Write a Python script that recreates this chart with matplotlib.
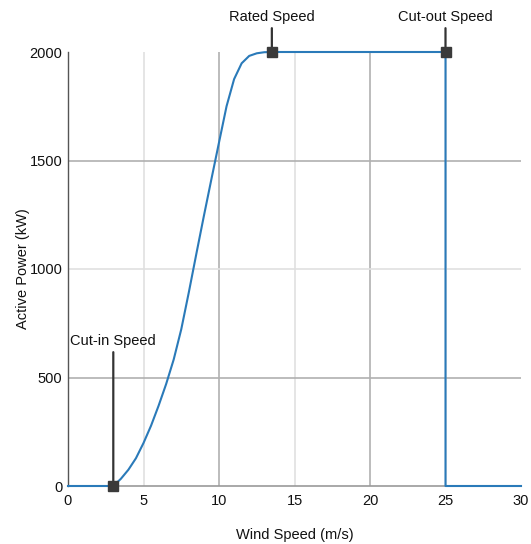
import matplotlib
matplotlib.use("Agg")
import matplotlib.pyplot as plt

plt.rcParams['font.family'] = ['Liberation Sans', 'DejaVu Sans']

wind_speed = [0, 3, 3.5, 4, 4.5, 5, 5.5, 6, 6.5, 7, 7.5, 8, 8.5, 9, 9.5, 10,
              10.5, 11, 11.5, 12, 12.5, 13, 13.5, 25, 25, 30]
power_kw = [0, 0, 33, 75, 128, 198, 278, 370, 470, 583, 722, 892, 1070, 1245, 1415, 1583,
            1750, 1875, 1948, 1982, 1994, 1999, 2000, 2000, 0, 0]

marker_x = [3, 13.5, 25]
marker_y = [0, 2000, 2000]
marker_labels = ["Cut-in Speed", "Rated Speed", "Cut-out Speed"]
label_offsets_px = [138, 28, 28]

x_ticks = [0, 5, 10, 15, 20, 25, 30]
y_ticks = [0, 500, 1000, 1500, 2000]

fig = plt.figure(figsize=(5.31, 5.44), dpi=100)
ax = fig.add_axes([68/531, 1-486/544, (521-68)/531, (486-52)/544])

# gridlines
light = '#e0e0e0'
dark = '#b0b0b0'
for xv in [5, 15, 25]:
    ax.axvline(xv, color=light, lw=1.2, zorder=0)
for xv in [10, 20]:
    ax.axvline(xv, color=dark, lw=1.2, zorder=0)
for yv in [500, 1500]:
    ax.axhline(yv, color=dark, lw=1.2, zorder=0)
ax.axhline(1000, color=light, lw=1.2, zorder=0)

ax.plot(wind_speed, power_kw, color='#2a7ab9', lw=1.5, zorder=3, clip_on=False)

for xv, yv, lab, off in zip(marker_x, marker_y, marker_labels, label_offsets_px):
    ax.annotate(lab, xy=(xv, yv), xytext=(0, off), textcoords='offset pixels',
                ha='center', va='bottom', fontsize=10.5, color='#111111',
                arrowprops=dict(arrowstyle='-', color='#333333', lw=1.6,
                                shrinkA=1, shrinkB=0), zorder=4,
                annotation_clip=False)
ax.plot(marker_x, marker_y, linestyle='none', marker='s', markersize=6.5,
        color='#3a3a3a', zorder=5, clip_on=False)

ax.set_xlim(0, 30)
ax.set_ylim(0, 2000)
ax.set_xticks(x_ticks)
ax.set_yticks(y_ticks)
ax.tick_params(length=0, labelsize=10.5, colors='#111111', pad=6)
ax.tick_params(axis='y', pad=4)

for s in ['top', 'right']:
    ax.spines[s].set_visible(False)
ax.spines['left'].set_color('#555555')
ax.spines['bottom'].set_color('#999999')
ax.spines['left'].set_linewidth(1.0)
ax.spines['bottom'].set_linewidth(1.2)

ax.set_xlabel('Wind Speed (m/s)', fontsize=10.5, color='#111111', labelpad=14)
ax.set_ylabel('Active Power (kW)', fontsize=10.5, color='#111111', labelpad=0)

fig.savefig('out.png', dpi=100)
